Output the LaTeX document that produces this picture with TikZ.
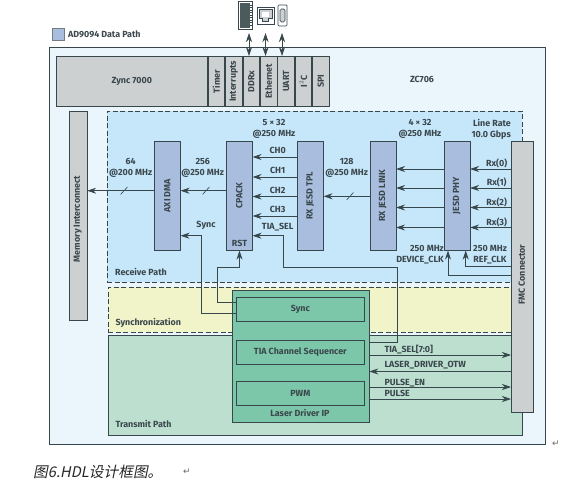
\documentclass[tikz,border=0pt]{standalone}
\usepackage{fontspec}
\setmainfont{Fira Sans}
\newfontfamily\cjkfont{Noto Sans CJK SC}
\newfontfamily\symfont{DejaVu Sans}
\usetikzlibrary{arrows.meta,positioning,calc}
\definecolor{adink}{HTML}{3A474C}
\definecolor{adline}{HTML}{37474B}
\definecolor{adouter}{HTML}{EAF5FC}
\definecolor{adgray}{HTML}{CDD0D1}
\definecolor{adblock}{HTML}{A9BEDE}
\definecolor{adrecv}{HTML}{C6E6FA}
\definecolor{adsync}{HTML}{F0F4C8}
\definecolor{adtrans}{HTML}{BCDFD0}
\definecolor{adip}{HTML}{7CC6A9}
\tikzset{
  lbl/.style={font=\fontsize{8.9}{11}\selectfont\bfseries,text=adink,inner sep=0pt,align=center},
  vlbl/.style={lbl,rotate=90},
  zone/.style={inner sep=0pt,anchor=north west},
  dashzone/.style={zone,draw=adline,dash pattern=on 5pt off 2.5pt,line width=0.6pt},
  gate/.style={draw=adline,fill=adgray,line width=0.7pt,inner sep=0pt,minimum height=50pt,minimum width=16.7pt},
  block/.style={draw=adline,fill=adblock,line width=0.6pt,inner sep=0pt,minimum width=26pt,minimum height=109pt,anchor=north west},
  ipbox/.style={draw=adline,fill=adip,line width=0.7pt,inner sep=0pt,minimum width=128pt,minimum height=23.5pt,anchor=north west},
  arr/.style={-{Stealth[length=9pt,width=6pt]},line width=0.7pt,draw=adline},
  darr/.style={{Stealth[length=9pt,width=6pt]}-{Stealth[length=9pt,width=6pt]},line width=0.7pt,draw=adline},
  tick/.style={line width=0.6pt,draw=adline},
}
\begin{document}
\begin{tikzpicture}[x=1pt,y=-1pt]
\useasboundingbox (0,0) rectangle (575,481);
% background areas
\node[zone,draw=adline,fill=adouter,line width=0.8pt,minimum width=496pt,minimum height=397pt] (board) at (49,47) {};
\node[dashzone,fill=adrecv,minimum width=415pt,minimum height=170.5pt] (recv) at (107,111) {};
\node[dashzone,fill=adsync,minimum width=414pt,minimum height=45pt] (sync) at (108,287) {};
\node[zone,draw=adline,fill=adtrans,line width=0.7pt,minimum width=414pt,minimum height=100pt] (trans) at (107.5,335) {};
% legend
\node[zone,draw=adline!70,fill=adblock,line width=0.5pt,minimum width=12pt,minimum height=12pt] (key) at (52,28) {};
\node[lbl,anchor=west] (keytxt) at (68,34) {AD9094 Data Path};
\node[lbl] (zc) at (422,79) {ZC706};
% zynq strip
\node[gate,anchor=north west,minimum width=151pt] (zynq) at (56,56) {};
\node[gate,right=0pt of zynq] (timer) {};
\node[gate,right=0pt of timer] (irq) {};
\node[gate,right=0pt of irq] (ddr) {};
\node[gate,right=0pt of ddr] (eth) {};
\node[gate,right=0pt of eth] (uart) {};
\node[gate,right=0pt of uart] (iic) {};
\node[gate,right=0pt of iic] (spi) {};
\node[lbl] at (zynq) {Zync 7000};
\node[vlbl] at (timer) {Timer};
\node[vlbl] at (irq) {Interrupts};
\node[vlbl] at (ddr) {DDRx};
\node[vlbl] at (eth) {Ethernet};
\node[vlbl] at (uart) {UART};
\node[vlbl] at (iic) {I$^2$C};
\node[vlbl] at (spi) {SPI};
% peripheral icons
\node[draw=adline,fill=white,line width=0.7pt,inner sep=0pt,minimum width=14pt,minimum height=28pt] (ddricon) at (245,15.5) {};
\fill[adline!90] (239.5,3) rectangle (249.5,28);
\foreach \y in {5,7.5,...,27} \draw[adline,line width=0.5pt] (250,\y) -- (252,\y);
\node[draw=adline,fill=white,line width=0.7pt,inner sep=0pt,minimum width=17pt,minimum height=17pt] (ethicon) at (265.5,15.5) {};
\draw[adline,fill=adgray,line width=1pt] (259,9.5) -- (272,9.5) -- (272,19) -- (268.5,19) -- (268.5,22) -- (262.5,22) -- (262.5,19) -- (259,19) -- cycle;
\fill[white] (262,12) rectangle (269,17);
\node[draw=adline,fill=white,rounded corners=1pt,line width=0.7pt,inner sep=0pt,minimum width=9pt,minimum height=21pt] (uarticon) at (282.5,15.5) {};
\draw[adline,fill=adgray,line width=0.7pt,rounded corners=1.5pt] (280,9) rectangle (285,22);
\coordinate (ddrtop) at (249,33);
\coordinate (ethtop) at (265.5,33);
\coordinate (uarttop) at (282,33);
\draw[darr] (ddrtop) -- (ddrtop |- ddr.north);
\draw[darr] (ethtop) -- (ethtop |- eth.north);
\draw[darr] (uarttop) -- (uarttop |- uart.north);
% receive path blocks
\node[gate,anchor=north west,minimum width=17.5pt,minimum height=209pt] (mem) at (69,111) {};
\node[vlbl] at (77.8,219) {Memory Interconnect};
\node[block] (axi) at (154,141) {};
\node[vlbl] at (axi) {AXI DMA};
\node[block] (cpack) at (226,141) {};
\node[vlbl] at (cpack) {CPACK};
\node[lbl] (rst) at (239.5,243.7) {RST};
\node[block] (tpl) at (297,141) {};
\node[vlbl] at (tpl) {RX JESD TPL};
\node[block] (link) at (369.5,141) {};
\node[vlbl] at (link) {RX JESD LINK};
\node[block] (phy) at (443.5,141) {};
\node[vlbl] at (phy) {JESD PHY};
\node[gate,anchor=north west,minimum width=21.5pt,minimum height=271pt] (fmc) at (511,141) {};
\node[vlbl] at (521.7,274.5) {FMC Connector};
% laser driver ip
\node[zone,draw=adline,fill=adip,line width=0.8pt,minimum width=137pt,minimum height=132pt] (laser) at (231.5,290) {};
\node[ipbox] (syncb) at (236,297) {};
\node[lbl] at (syncb) {Sync};
\node[ipbox] (seq) at (236,340) {};
\node[lbl] at (seq) {TIA Channel Sequencer};
\node[ipbox] (pwm) at (236,381) {};
\node[lbl] at (pwm) {PWM};
\node[lbl] (laserlbl) at (300,413) {Laser Driver IP};
% data path
\draw[arr] (axi.west |- 0,190.7) -- (mem.east |- 0,190.7);
\draw[arr] (cpack.west |- 0,190.7) -- (axi.east |- 0,190.7);
\draw[arr] (link.west |- 0,196.3) -- (tpl.east |- 0,196.3);
\draw[tick] (120.5,194.5) -- (127.5,187);
\draw[tick] (202.5,194.5) -- (209.5,187);
\draw[tick] (346.5,200) -- (353.5,192.5);
\foreach \y/\t in {157/CH0,177/CH1,196.5/CH2,216/CH3} {
  \draw[arr] (tpl.west |- 0,\y) -- (cpack.east |- 0,\y);
  \node[lbl] at (277.7,\y-6.3) {\t};
}
\foreach \y/\t in {169/Rx(0),188/Rx(1),207.5/Rx(2),227.5/Rx(3)} {
  \draw[arr] (fmc.west |- 0,\y) -- (phy.east |- 0,\y);
  \draw[arr] (phy.west |- 0,\y) -- (link.east |- 0,\y);
  \node[lbl] at (496.7,\y-5.5) {\t};
}
% clocks and control
\coordinate (refend) at (465.7,266.3);
\coordinate (devend) at (448,275.7);
\draw[arr] (fmc.west |- refend) -- (refend) -- (refend |- phy.south);
\draw[arr] (fmc.west |- devend) -- (devend) -- (devend |- phy.south);
\coordinate (rstend) at (239.5,267.7);
\draw[arr] (syncb.west |- 0,302) -- (217,302) -- (217,267.7) -- (rstend) -- (cpack.south -| rstend);
\draw[arr] (syncb.west |- 0,313) -- (201,313) -- (201,235.7) -- (axi.east |- 0,235.7);
\draw[arr] (laser.east |- 0,342) -- (397.5,342) -- (397.5,267.7) -- (283,267.7) -- (283,235.7) -- (cpack.east |- 0,235.7);
% transmit signals
\draw[arr] (laser.east |- 0,355) -- (fmc.west |- 0,355);
\draw[arr] (fmc.west |- 0,371.5) -- (laser.east |- 0,371.5);
\draw[arr] (laser.east |- 0,387) -- (fmc.west |- 0,387);
\draw[arr] (laser.east |- 0,399) -- (fmc.west |- 0,399);
% labels
\node[lbl] at (130.7,167.7) {64\\@200 MHz};
\node[lbl] at (202.7,167.7) {256\\@250 MHz};
\node[lbl] at (274,129) {5 × 32\\@250 MHz};
\node[lbl] at (346.7,167.7) {128\\@250 MHz};
\node[lbl] at (420,129) {4 × 32\\@250 MHz};
\node[lbl,anchor=east,align=right] at (511,129) {Line Rate\\10.0 Gbps};
\node[lbl] at (206,225) {Sync};
\node[lbl] at (277.7,226.7) {TIA\_SEL};
\node[lbl,align=right,anchor=east] at (444,255) {250 MHz\\DEVICE\_CLK};
\node[lbl,align=center] at (490,255) {250 MHz\\REF\_CLK};
\node[lbl,anchor=west] at (115,271.7) {Receive Path};
\node[lbl,anchor=west] at (115.3,322.7) {Synchronization};
\node[lbl,anchor=west] at (115.3,424.3) {Transmit Path};
\node[lbl,anchor=west] at (384.3,349.3) {TIA\_SEL[7:0]};
\node[lbl,anchor=west] at (384.3,365.3) {LASER\_DRIVER\_OTW};
\node[lbl,anchor=west] at (384.3,382.7) {PULSE\_EN};
\node[lbl,anchor=west] at (384.3,393.3) {PULSE};
% caption
\node[inner sep=0pt,anchor=west,font=\fontsize{14.7}{16}\selectfont,text=black!85] (cap) at (33,472) {\cjkfont\addfontfeature{FakeSlant=0.2}图6.HDL设计框图。};
\node[inner sep=0pt,font=\symfont\fontsize{9}{10}\selectfont,text=black!60] (ret1) at (556,444) {↵};
\node[inner sep=0pt,font=\symfont\fontsize{9}{10}\selectfont,text=black!60] (ret2) at (187,472) {↵};
\end{tikzpicture}
\end{document}
